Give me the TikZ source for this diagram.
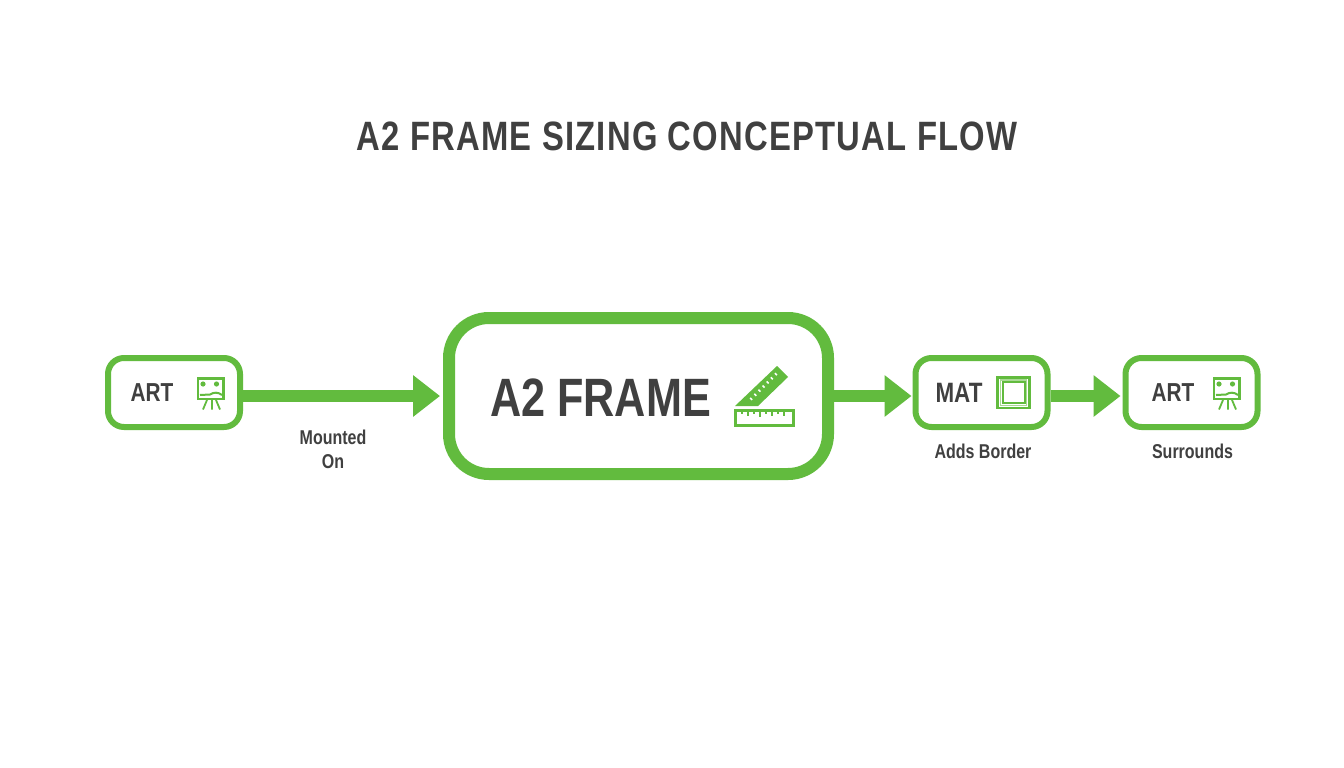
\documentclass[tikz,border=0pt]{standalone}
\usepackage{fontspec}
\setmainfont[FakeStretch=0.80]{Liberation Sans}
\usetikzlibrary{arrows.meta,calc}
\definecolor{grn}{HTML}{62BB3E}
\definecolor{ink}{HTML}{404040}
\tikzset{
  box/.style={draw=grn,line width=6pt,rounded corners=16pt,minimum width=132pt,minimum height=69pt,inner sep=0pt,fill=white},
  bigbox/.style={draw=grn,line width=12pt,rounded corners=40pt,minimum width=379pt,minimum height=156pt,inner sep=0pt,fill=white},
  flow/.style={draw=grn,line width=12.5pt,-{Triangle[length=27pt,width=40pt]}},
  lbl/.style={text=ink,font=\bfseries\fontsize{28}{30}\selectfont,inner sep=0pt},
  lblsmall/.style={text=ink,font=\bfseries\fontsize{26}{30}\selectfont,inner sep=0pt},
  captxt/.style={text=ink,font=\bfseries\fontsize{20}{24}\selectfont,inner sep=0pt,align=center},
  ico/.style={draw=grn,line width=2.6pt},
  icofine/.style={draw=grn,line width=1.4pt},
}
\begin{document}
\begin{tikzpicture}[x=1pt,y=-1pt]
\useasboundingbox (0,0) rectangle (1344,768);
\fill[white] (0,0) rectangle (1344,768);
\node[text=ink,font=\bfseries\fontsize{41}{44}\selectfont\addfontfeature{LetterSpace=3},inner sep=0pt] (title) at (687,136) {A2 FRAME SIZING CONCEPTUAL FLOW};

\node[box] (art1) at (174,392.5) {};
\node[bigbox] (frame) at (638.5,396) {};
\node[box] (mat) at (981.5,392.5) {};
\node[box] (art2) at (1191.5,392.5) {};

\draw[flow,shorten >=3pt] (art1.east |- frame.west) -- (frame.west);
\draw[flow,shorten >=1pt] (frame.east) -- (mat.west |- frame.east);
\draw[flow,shorten >=2pt] (mat.east |- frame.east) -- (art2.west |- frame.east);

\node[lblsmall] (t1) at (152,392.5) {ART};
\node[lbl] (t2) at (959,392.5) {MAT};
\node[lblsmall] (t3) at (1173,392.5) {ART};
\node[text=ink,font=\bfseries\fontsize{54}{60}\selectfont,inner sep=0pt] (t4) at (600.5,398) {A2 FRAME};

\node[captxt] (c1) at (333,449) {Mounted\\On};
\node[captxt] (c2) at (983,451) {Adds Border};
\node[captxt] (c3) at (1192.5,451) {Surrounds};

% easel icons
\foreach \ox in {0,1016}{
 \begin{scope}[xshift=\ox pt]
  \draw[ico] (198,378.3) rectangle (223.7,399);
  \fill[grn] (203,384) circle (2.6pt) (216.5,384) circle (2.6pt);
  \draw[ico,line width=2pt] (200,395) -- (210,394.5) .. controls (214,392) and (218,392) .. (222,395);
  \draw[ico,line width=1.8pt] (207,400) -- (203,409.5) (212,400) -- (212,409.5) (216,400) -- (220,409.5);
 \end{scope}
}

% mat icon
\draw[ico] (997.5,377.5) rectangle (1029.5,408);
\draw[icofine,grn!55] (1000.5,380) rectangle (1026.5,405.5);
\draw[ico,line width=2.2pt] (1003,382) rectangle (1025,403);

% ruler icon
\fill[grn] (735,406) -- (777,366) -- (788,377) -- (758,406) -- cycle;
\foreach \t in {0.06,0.21,0.36,0.51,0.66,0.81,0.96}{
  \draw[white,line width=1.5pt] ($(748.5,399.5)!\t!(776,372)$) -- ++(2,2);
}
\draw[ico] (735.5,410.3) rectangle (793.5,425.7);
\foreach \x/\h in {742/3,748/5,754/3,760/6,766/3,772/5,778/3,784/5}{
  \draw[icofine,line width=1.8pt] (\x,411) -- ++(0,\h);
}
\end{tikzpicture}
\end{document}
